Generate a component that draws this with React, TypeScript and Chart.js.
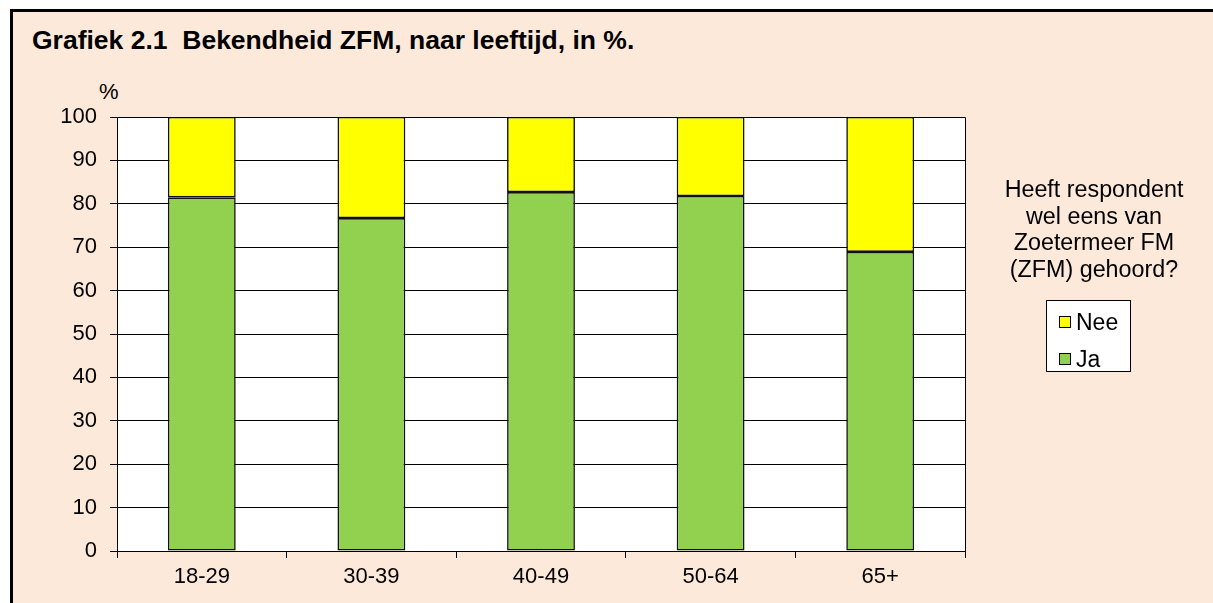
import React, { useEffect, useRef } from "react";
import { Chart, registerables } from "chart.js";

Chart.register(...registerables);

const categories = ["18-29", "30-39", "40-49", "50-64", "65+"];
const jaValues = [81.5, 76.7, 82.7, 81.8, 68.9];
const neeValues = [18.5, 23.3, 17.3, 18.2, 31.1];
const seriesLabels = ["Nee", "Ja"];
const yMin = 0;
const yMax = 100;
const yStep = 10;

const titleText = "Grafiek 2.1  Bekendheid ZFM, naar leeftijd, in %.";
const legendTitleLines = ["Heeft respondent", "wel eens van", "Zoetermeer FM", "(ZFM) gehoord?"];
const yUnit = "%";

const FONT = "'Liberation Sans', Arial, Helvetica, sans-serif";
const PEACH = "#FDE9D9";
const GREEN = "#92D050";
const YELLOW = "#FFFF00";

const plotFrame = {
  id: "plotFrame",
  beforeDraw(chart: any) {
    const { ctx, chartArea } = chart;
    const { left, top, right, bottom } = chartArea;
    ctx.save();
    ctx.fillStyle = "#ffffff";
    ctx.fillRect(left, top, right - left, bottom - top);
    ctx.restore();
  },
  afterDraw(chart: any) {
    const { ctx, chartArea } = chart;
    const { left, top, right, bottom } = chartArea;
    ctx.save();
    ctx.strokeStyle = "#000";
    ctx.lineWidth = 1;
    ctx.beginPath();
    ctx.moveTo(left, top + 0.5);
    ctx.lineTo(right + 0.5, top + 0.5);
    ctx.lineTo(right + 0.5, bottom);
    ctx.stroke();
    ctx.restore();
  },
};

export default function App() {
  const canvasRef = useRef<HTMLCanvasElement | null>(null);

  useEffect(() => {
    const canvas = canvasRef.current;
    if (!canvas) return;
    const chart = new Chart(canvas, {
      type: "bar",
      data: {
        labels: categories,
        datasets: [
          {
            label: seriesLabels[1],
            data: jaValues,
            backgroundColor: GREEN,
            borderColor: "#111",
            borderWidth: 1.6,
            borderSkipped: false,
            barPercentage: 0.4,
            categoryPercentage: 1,
          },
          {
            label: seriesLabels[0],
            data: neeValues,
            backgroundColor: YELLOW,
            borderColor: "#111",
            borderWidth: 1.6,
            borderSkipped: false,
            barPercentage: 0.4,
            categoryPercentage: 1,
          },
        ],
      },
      options: {
        animation: false,
        responsive: false,
        maintainAspectRatio: false,
        events: [],
        layout: { padding: { top: 117, right: 248, left: 0, bottom: 0 } },
        plugins: {
          legend: { display: false },
          title: { display: false },
          tooltip: { enabled: false },
        },
        scales: {
          x: {
            stacked: true,
            grid: {
              offset: true,
              drawOnChartArea: false,
              drawTicks: true,
              tickLength: 7,
              color: "#000",
              lineWidth: 1,
            },
            border: { color: "#000", width: 1 },
            ticks: {
              color: "#000",
              font: { family: FONT, size: 22 },
              padding: 6,
              maxRotation: 0,
            },
            afterFit: (s: any) => {
              s.height = 52;
            },
          },
          y: {
            stacked: true,
            min: yMin,
            max: yMax,
            ticks: {
              stepSize: yStep,
              color: "#000",
              font: { family: FONT, size: 22 },
              padding: 13,
            },
            grid: { color: "#000", lineWidth: 1, tickLength: 7 },
            border: { color: "#000", width: 1 },
            afterFit: (s: any) => {
              s.width = 117;
            },
          },
        },
      },
      plugins: [plotFrame],
    });
    return () => chart.destroy();
  }, []);

  return (
    <div
      style={{
        position: "fixed",
        left: 0,
        top: 0,
        width: 1213,
        height: 603,
        overflow: "hidden",
        background: "#ffffff",
        fontFamily: FONT,
      }}
    >
      <div
        style={{
          position: "absolute",
          left: 10,
          top: 9,
          width: 1250,
          height: 650,
          borderTop: "3px solid #000",
          borderLeft: "3px solid #000",
          background: PEACH,
        }}
      />
      <div
        style={{
          position: "absolute",
          left: 32,
          top: 27,
          fontSize: 26.5,
          lineHeight: "26px",
          fontWeight: "bold",
          whiteSpace: "pre",
          color: "#000",
        }}
      >
        {titleText}
      </div>
      <div
        style={{
          position: "absolute",
          left: 99,
          top: 81,
          fontSize: 22,
          lineHeight: "22px",
          color: "#000",
        }}
      >
        {yUnit}
      </div>
      <canvas
        ref={canvasRef}
        width={1213}
        height={603}
        style={{ position: "absolute", left: 0, top: 0, width: 1213, height: 603 }}
      />
      <div
        style={{
          position: "absolute",
          left: 974,
          top: 176,
          width: 240,
          textAlign: "center",
          fontSize: 23.3,
          lineHeight: "26.7px",
          color: "#000",
        }}
      >
        {legendTitleLines.map((l) => (
          <div key={l}>{l}</div>
        ))}
      </div>
      <div
        style={{
          position: "absolute",
          left: 1046,
          top: 300,
          width: 83,
          height: 70,
          border: "1px solid #000",
          background: "#fff",
        }}
      >
        {[
          { label: seriesLabels[0], color: YELLOW },
          { label: seriesLabels[1], color: GREEN },
        ].map((item, i) => (
          <div
            key={item.label}
            style={{
              position: "absolute",
              left: 12,
              top: 8 + i * 37,
              height: 26,
              display: "flex",
              alignItems: "center",
              fontSize: 23,
              color: "#000",
            }}
          >
            <span
              style={{
                display: "inline-block",
                width: 10,
                height: 10,
                border: "1px solid #000",
                background: item.color,
                marginRight: 5,
              }}
            />
            <span>{item.label}</span>
          </div>
        ))}
      </div>
    </div>
  );
}
